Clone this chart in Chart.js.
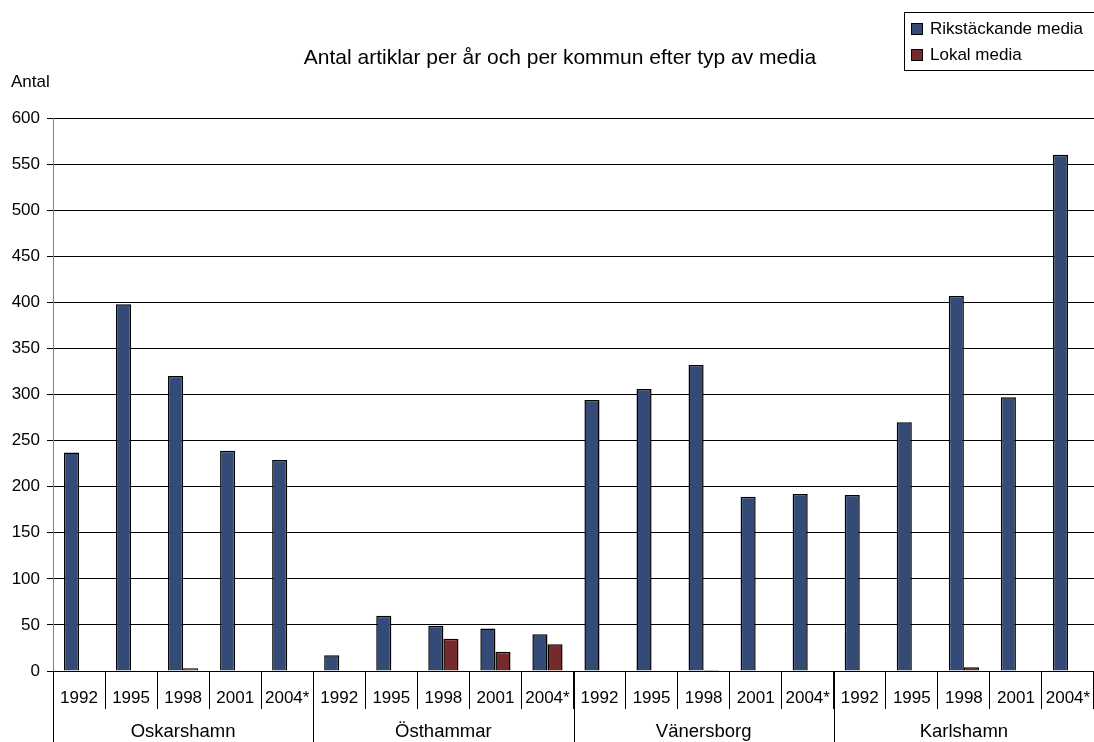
<!DOCTYPE html>
<html>
<head>
<meta charset="utf-8">
<script src="https://cdn.jsdelivr.net/npm/chart.js@4.4.1/dist/chart.umd.min.js"></script>
<style>
    html, body { margin: 0; padding: 0; background: #fff; }
    #wrap { width: 1094px; height: 742px; }
</style>
</head>
<body>
<div id="wrap"><canvas id="chart" width="1094" height="742"></canvas></div>
<script>
// Data
const years = ['1992', '1995', '1998', '2001', '2004*'];
const kommuner = ['Oskarshamn', 'Östhammar', 'Vänersborg', 'Karlshamn'];
const rikstackande = [237, 398, 320, 239, 229,   17, 60, 49, 46, 40,   294, 306, 332, 189, 192,   191, 270, 407, 297, 560];
const lokal =        [0, 0, 3, 0, 0,             0, 0, 35, 21, 29,     0, 0, 1, 0, 0,             0, 0, 4, 0, 0];
const yTicks = { min: 0, max: 600, step: 50 };

const FONT = 'Liberation Sans, Arial, sans-serif';
const BLUE = '#344b78';
const RED = '#762a2b';

// one label per bar group: year repeated for each kommun
const labels = [];
kommuner.forEach(() => years.forEach(y => labels.push(y)));

// Draws title, legend, y-axis name and the kommun row under the years
const extras = {
    id: 'extras',
    afterDraw(chart) {
        const ctx = chart.ctx;
        const area = chart.chartArea;
        ctx.save();
        ctx.fillStyle = '#000';

        // title
        ctx.font = '21px ' + FONT;
        ctx.textAlign = 'center';
        ctx.textBaseline = 'middle';
        ctx.fillText('Antal artiklar per år och per kommun efter typ av media', 560, 58);

        // y axis name
        ctx.font = '17px ' + FONT;
        ctx.textAlign = 'left';
        ctx.fillText('Antal', 11, 82);

        // kommun separators and names
        const catW = (area.right - area.left) / labels.length;
        ctx.strokeStyle = '#000';
        ctx.lineWidth = 1;
        for (let k = 0; k <= kommuner.length; k++) {
            const px = Math.round(area.left + k * years.length * catW) + 0.5;
            ctx.beginPath();
            ctx.moveTo(px, area.bottom);
            ctx.lineTo(px, 742);
            ctx.stroke();
        }
        ctx.font = '18.5px ' + FONT;
        ctx.textAlign = 'center';
        kommuner.forEach((name, k) => {
            const mid = area.left + (k + 0.5) * years.length * catW;
            ctx.fillText(name, mid, 732);
        });

        // legend
        ctx.font = '17px ' + FONT;
        ctx.strokeStyle = '#000';
        ctx.strokeRect(904.5, 12.5, 190, 58);
        const items = [['Rikstäckande media', BLUE, 29], ['Lokal media', RED, 55]];
        ctx.textAlign = 'left';
        items.forEach(([text, color, cy]) => {
            ctx.fillStyle = color;
            ctx.fillRect(911, cy - 6, 12, 12);
            ctx.strokeRect(911.5, cy - 5.5, 11, 11);
            ctx.fillStyle = '#000';
            ctx.fillText(text, 930, cy);
        });
        ctx.restore();
    }
};

new Chart(document.getElementById('chart').getContext('2d'), {
    type: 'bar',
    data: {
        labels: labels,
        datasets: [
            {
                label: 'Rikstäckande media',
                data: rikstackande,
                backgroundColor: BLUE,
                borderColor: '#000',
                borderWidth: 1.5,
                inflateAmount: 0,
                categoryPercentage: 0.58,
                barPercentage: 1.0
            },
            {
                label: 'Lokal media',
                data: lokal,
                backgroundColor: RED,
                borderColor: '#000',
                borderWidth: 1.5,
                inflateAmount: 0,
                categoryPercentage: 0.58,
                barPercentage: 1.0
            }
        ]
    },
    options: {
        responsive: false,
        animation: false,
        layout: { padding: { top: 118, left: 0, right: 0, bottom: 0 } },
        plugins: {
            legend: { display: false },
            title: { display: false },
            tooltip: { enabled: false }
        },
        scales: {
            x: {
                offset: true,
                grid: {
                    offset: true,
                    drawOnChartArea: false,
                    drawTicks: true,
                    tickLength: 38,
                    color: '#000'
                },
                border: { color: '#000' },
                ticks: {
                    color: '#000',
                    font: { family: FONT, size: 17 },
                    padding: -21,
                    maxRotation: 0,
                    autoSkip: false
                },
                afterFit(scale) { scale.height = 71; }
            },
            y: {
                min: yTicks.min,
                max: yTicks.max,
                grid: {
                    color: '#000',
                    tickLength: 6
                },
                border: { color: '#808080' },
                ticks: {
                    stepSize: yTicks.step,
                    color: '#000',
                    font: { family: FONT, size: 17 },
                    padding: 7
                },
                afterFit(scale) { scale.width = 53; }
            }
        }
    },
    plugins: [extras]
});
</script>
</body>
</html>
